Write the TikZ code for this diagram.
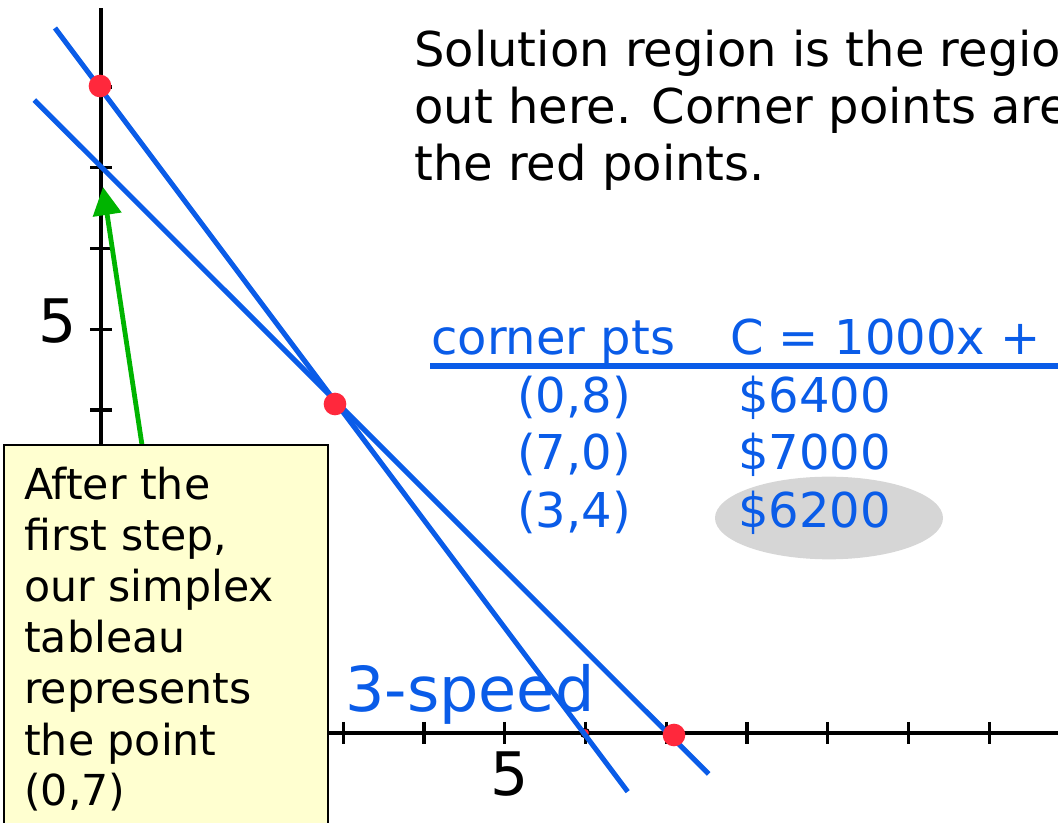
\documentclass[tikz,border=0pt]{standalone}
\usepackage{fontspec}
\setmainfont{DejaVu Sans}
\usetikzlibrary{arrows.meta,shapes.geometric}
\definecolor{lineblue}{RGB}{10,92,232}
\definecolor{dotred}{RGB}{255,40,60}
\definecolor{arrowgreen}{RGB}{0,180,0}
\definecolor{noteyellow}{RGB}{255,255,208}
\definecolor{hlgray}{RGB}{214,214,214}
\begin{document}
\begin{tikzpicture}[x=0.75pt,y=-0.75pt,
  axisline/.style={black,line width=2.5pt},
  tickline/.style={black,line width=2.3pt},
  constraint/.style={lineblue,line width=3.8pt},
  corner/.style={circle,fill=dotred,draw=none,minimum size=17pt,inner sep=0pt},
  smalldot/.style={circle,fill=dotred,draw=black,line width=0.8pt,minimum size=7pt,inner sep=0pt},
  pointer/.style={arrowgreen,line width=3.6pt,-{Triangle[length=21pt,width=21pt]}},
  notebox/.style={fill=noteyellow,draw=black,line width=1.6pt},
  boxtext/.style={anchor=base west,inner sep=0pt,font=\fontsize{32pt}{38pt}\selectfont},
  toptext/.style={anchor=base west,inner sep=0pt,font=\fontsize{36pt}{43pt}\selectfont},
  tabtext/.style={anchor=base west,inner sep=0pt,text=lineblue,font=\fontsize{36pt}{43pt}\selectfont},
  axislabel/.style={anchor=base,inner sep=0pt,font=\fontsize{45pt}{54pt}\selectfont},
  highlight/.style={ellipse,fill=hlgray,draw=none,minimum width=171pt,minimum height=62pt,inner sep=0pt}
]
\useasboundingbox (0,0) rectangle (1058,823);
\clip (0,0) rectangle (1058,823);

% axes
\coordinate (O) at (101,733);
\coordinate (ytop) at (101,8);
\coordinate (xend) at (1062,733);
\draw[axisline] (O) -- (ytop);
\draw[axisline] (O) -- (xend);
\foreach \k in {1,...,8}
  \draw[tickline] ({90},{733-80.75*\k}) -- ({112},{733-80.75*\k});
\foreach \k in {1,...,12}
  \draw[tickline] ({101+80.75*\k},{722}) -- ({101+80.75*\k},{744});

% axis labels
\node[axislabel] (ylab) at (58,343) {5};
\node[axislabel] (xlab) at (510,795) {5};

% small point at (6,0)
\node[smalldot] (p60) at (585,733) {};

% constraint lines
\coordinate (l1a) at (55,28);
\coordinate (l1b) at (627.7,791.7);
\coordinate (l2a) at (34.3,100);
\coordinate (l2b) at (708.7,774);
\draw[constraint] (l1a) -- (l1b);
\draw[constraint] (l2a) -- (l2b);

% corner points
\node[corner] (p08) at (100,86) {};
\node[corner] (p34) at (335,404) {};
\node[corner] (p70) at (674,735) {};

% green pointer
\coordinate (gstart) at (147.3,480);
\coordinate (gtip) at (103,187);
\draw[pointer] (gstart) -- (gtip);

% note box
\path[notebox] (4,445) rectangle (328,840);
\node[boxtext] (b1) at (24,500) {After the};
\node[boxtext] (b2) at (24,551) {first step,};
\node[boxtext] (b3) at (24,602) {our simplex};
\node[boxtext] (b4) at (24,653) {tableau};
\node[boxtext] (b5) at (24,704) {represents};
\node[boxtext] (b6) at (24,755) {the point};
\node[boxtext] (b7) at (24,806) {(0,7)};

% top text
\node[toptext] (t1) at (414,67) {Solution region is the region};
\node[toptext] (t2) at (414,124) {out here. Corner points are};
\node[toptext] (t3) at (414,181) {the red points.};

% table
\node[tabtext] (h1) at (431,355) {corner pts};
\node[tabtext] (h2) at (730,355) {C = 1000x +};
\coordinate (ula) at (430,366);
\coordinate (ulb) at (1062,366);
\draw[lineblue,line width=3.8pt] (ula) -- (ulb);
\node[highlight] (hl) at (829,518) {};
\node[tabtext] (r1a) at (517,413) {(0,8)};
\node[tabtext] (r1b) at (738,413) {\$6400};
\node[tabtext] (r2a) at (517,470) {(7,0)};
\node[tabtext] (r2b) at (738,470) {\$7000};
\node[tabtext] (r3a) at (517,528) {(3,4)};
\node[tabtext] (r3b) at (738,528) {\$6200};

% 3-speed label
\node[anchor=base west,inner sep=0pt,text=lineblue,font=\fontsize{46.5pt}{55pt}\selectfont] (speed) at (345,712) {3-speed};
\end{tikzpicture}
\end{document}
